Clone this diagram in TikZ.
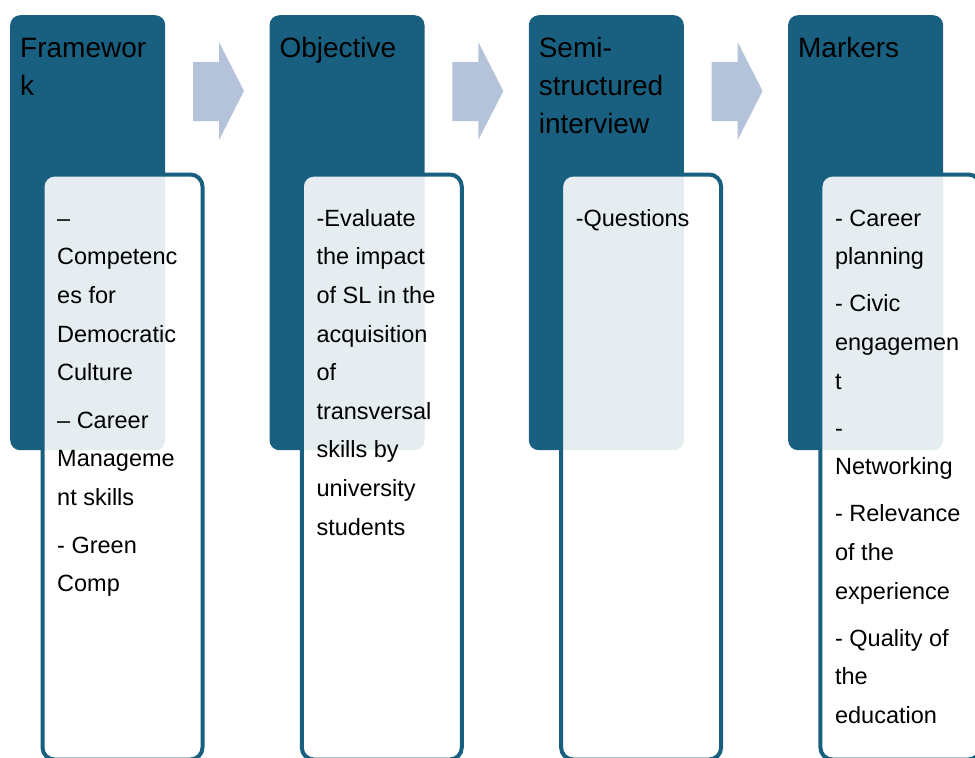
\documentclass[tikz,border=0pt]{standalone}
\usepackage{fontspec}
\setmainfont{Liberation Sans}

\definecolor{headblue}{HTML}{185F80}
\definecolor{arrowblue}{HTML}{B4C3DA}

\begin{document}
\begin{tikzpicture}[x=1pt,y=-1pt,
	headbox/.style={rectangle,rounded corners=10pt,fill=headblue,minimum width=155pt,minimum height=435pt,anchor=north west,inner sep=0pt},
	listbox/.style={rectangle,rounded corners=12pt,draw=headblue,line width=4pt,fill=white,fill opacity=0.89,minimum width=160pt,minimum height=585pt,anchor=north west,inner sep=0pt},
	headtext/.style={anchor=north west,align=left,inner sep=0pt,font=\fontsize{28}{38}\selectfont},
	listtext/.style={anchor=north west,align=left,inner sep=0pt,font=\fontsize{23.5}{38.6}\selectfont},
	steparrow/.style={fill=arrowblue}]
		
			\useasboundingbox (0,0) rectangle (975,758);
		
			\node[headbox] (frame) at (10,15) {};
			\node[headbox] (obj) at (269.3,15) {};
			\node[headbox] (interview) at (528.6,15) {};
			\node[headbox] (markers) at (787.9,15) {};
			
			\node[listbox] (framelist) at (40.5,172.5) {};
			\node[listbox] (objlist) at (299.8,172.5) {};
			\node[listbox] (interviewlist) at (559.1,172.5) {};
			\node[listbox] (markerslist) at (818.4,172.5) {};
			
			% first baseline at y=57 (head) and y=226 (lists); strut = .7 baselineskip
			\node[headtext] (frametxt) at (20,30.4) {\strut Framewor\\k};
			\node[headtext] (objtxt) at (279.3,30.4) {\strut Objective};
			\node[headtext] (interviewtxt) at (538.6,30.4) {\strut Semi-\\structured\\interview};
			\node[headtext] (markerstxt) at (797.9,30.4) {\strut Markers};
			
			\node[listtext] (framelisttxt) at (57,199) {\strut –\\Competenc\\es for\\Democratic\\Culture\\[9pt] – Career\\Manageme\\nt skills\\[9pt]- Green\\Comp};
			\node[listtext] (objlisttxt) at (316.3,199) {\strut -Evaluate\\the impact\\of SL in the\\acquisition\\of\\transversal\\skills by\\university\\students};
			\node[listtext] (interviewlisttxt) at (575.6,199) {\strut -Questions};
			\node[listtext] (markerslisttxt) at (834.9,199) {\strut - Career\\planning\\[8.5pt]- Civic\\engagemen\\t\\[8.5pt]-\\Networking\\[8.5pt]- Relevance\\of the\\experience\\[8.5pt]- Quality of\\the\\education};
			
			\fill[steparrow] (193,62) -- ++(26,0) -- ++(0,-20) -- ++(25,49) -- ++(-25,49) -- ++(0,-19) -- ++(-26,0) -- cycle;
			\fill[steparrow] (452.3,62) -- ++(26,0) -- ++(0,-20) -- ++(25,49) -- ++(-25,49) -- ++(0,-19) -- ++(-26,0) -- cycle;
			\fill[steparrow] (711.6,62) -- ++(26,0) -- ++(0,-20) -- ++(25,49) -- ++(-25,49) -- ++(0,-19) -- ++(-26,0) -- cycle;
		
		\end{tikzpicture}
\end{document}
